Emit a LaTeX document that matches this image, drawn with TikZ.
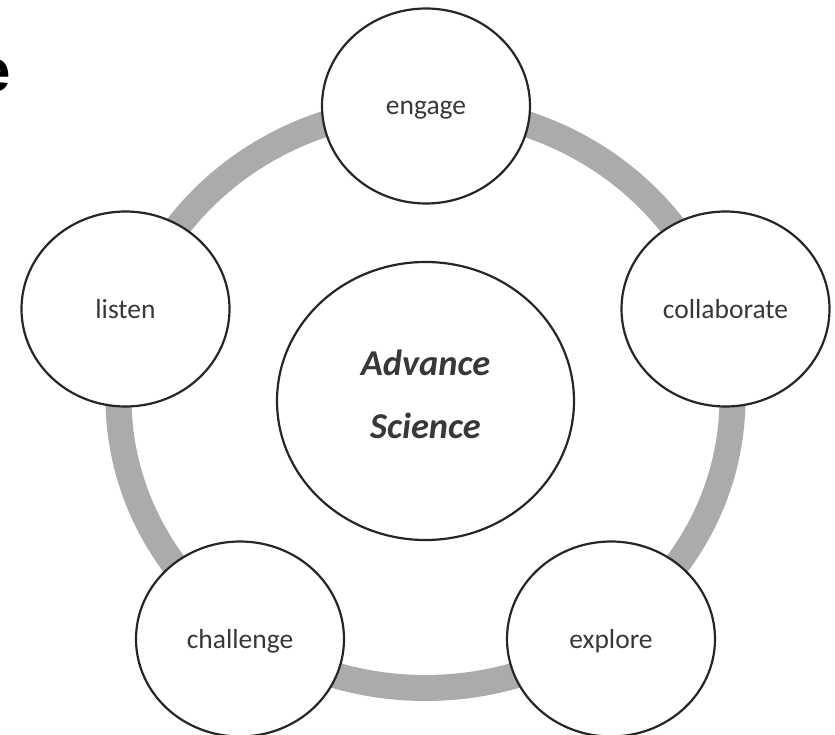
\documentclass[tikz,border=0pt]{standalone}
\usepackage{fontspec}
\setmainfont{Carlito}
\newfontfamily\titlefont{Liberation Sans}
\usetikzlibrary{shapes.geometric}
\definecolor{ringgray}{HTML}{ABABAB}
\definecolor{edgegray}{HTML}{262626}
\definecolor{txtgray}{HTML}{383838}
\tikzset{
  ring/.style={draw=ringgray, line width=26pt},
  spoke/.style={ellipse, draw=edgegray, line width=2.2pt, fill=white,
    minimum width=208pt, minimum height=195pt, inner sep=0pt,
    text=txtgray, font=\fontsize{27.5}{30}\selectfont,
    text height=20pt, text depth=2pt},
  hub/.style={ellipse, draw=edgegray, line width=2.2pt, fill=white,
    minimum width=297pt, minimum height=278pt, inner sep=0pt},
  hubtext/.style={anchor=base, inner sep=0pt, text=txtgray,
    font=\fontsize{36.4}{40}\selectfont\bfseries\itshape},
  titletext/.style={anchor=base east, inner sep=0pt, text=black,
    font=\titlefont\fontsize{60}{66}\selectfont\bfseries}
}
\begin{document}
\begin{tikzpicture}[x=1pt,y=-1pt]
  \useasboundingbox (0,0) rectangle (835,735);
  \clip (0,0) rectangle (835,735);
  \node[titletext] (title) at (10.7,92) {e};
  \coordinate (ringc) at (425.5,398);
  \draw[ring] (ringc) ellipse [x radius=307, y radius=290];
  \node[hub] (core) at (425.5,401) {};
  \node[hubtext] (adv) at (425.5,375) {Advance};
  \node[hubtext] (sci) at (425.5,438) {Science};
  \node[spoke] (engage) at (426,106) {engage};
  \node[spoke] (collab) at (725.5,309) {collaborate};
  \node[spoke] (explore) at (611,639) {explore};
  \node[spoke] (challenge) at (240,639) {challenge};
  \node[spoke] (listen) at (125.5,309) {listen};
\end{tikzpicture}
\end{document}
